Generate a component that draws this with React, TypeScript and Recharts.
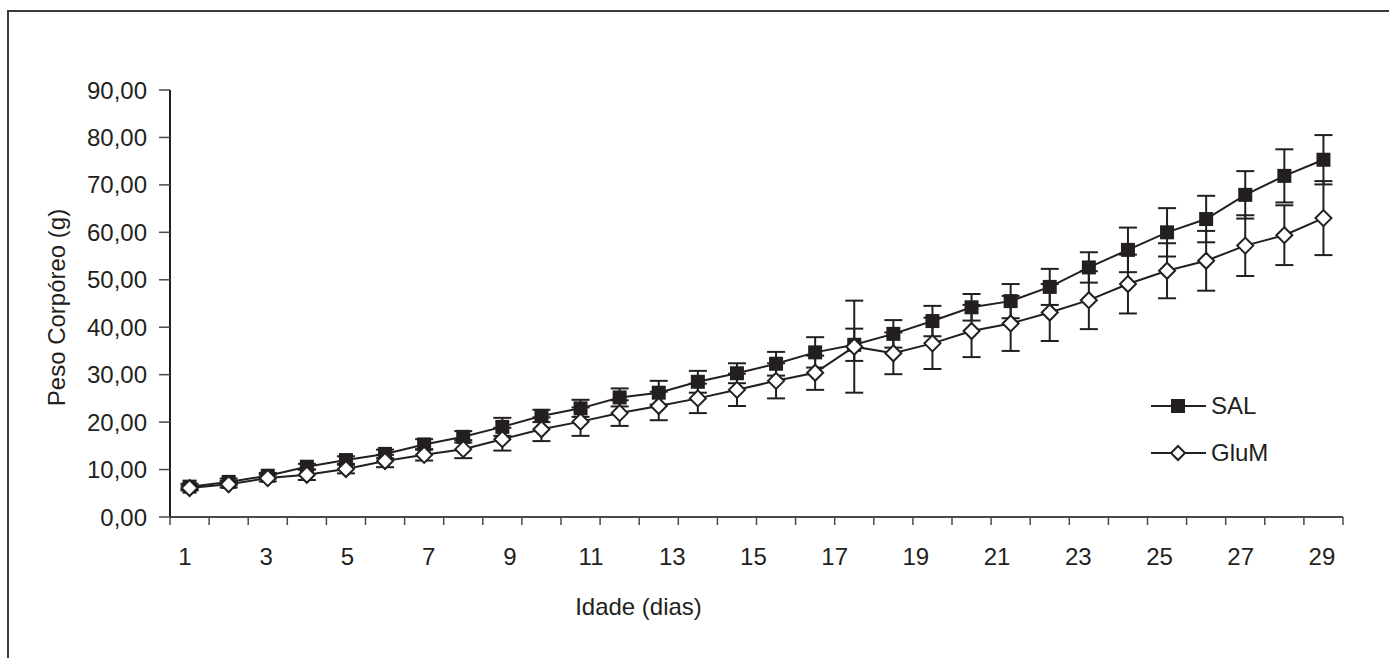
import React from 'react'
import {
  LineChart,
  Line,
  XAxis,
  YAxis,
  ErrorBar
} from 'recharts'

// Idade (dias) de cada ponto medido
const dias = [1, 2, 3, 4, 5, 6, 7, 8, 9, 10, 11, 12, 13, 14, 15, 16, 17, 18, 19, 20, 21, 22, 23, 24, 25, 26, 27, 28, 29, 30]

// Peso corpóreo médio (g) e erro (g) por grupo
const pesoSal = [6.4, 7.4, 8.7, 10.6, 12.0, 13.3, 15.3, 16.9, 19.0, 21.3, 22.9, 25.2, 26.2, 28.5, 30.3, 32.3, 34.7, 36.3, 38.6, 41.3, 44.2, 45.5, 48.5, 52.6, 56.3, 60.0, 62.8, 67.9, 71.9, 75.3]
const erroSal = [0.6, 0.7, 0.6, 0.6, 0.8, 0.9, 1.1, 1.2, 1.9, 1.3, 1.8, 1.9, 2.5, 2.3, 2.1, 2.5, 3.2, 3.4, 2.9, 3.2, 2.8, 3.6, 3.8, 3.2, 4.7, 5.1, 4.9, 5.0, 5.6, 5.2]
const pesoGlum = [6.1, 6.9, 8.2, 8.9, 10.1, 11.8, 13.1, 14.3, 16.4, 18.5, 20.1, 21.9, 23.4, 25.0, 26.8, 28.7, 30.4, 35.9, 34.5, 36.6, 39.2, 40.8, 43.1, 45.7, 49.1, 51.9, 54.0, 57.2, 59.4, 63.0]
const erroGlum = [0.5, 0.7, 0.7, 1.1, 0.9, 1.3, 1.2, 1.9, 2.4, 2.5, 3.0, 2.7, 3.0, 3.1, 3.4, 3.7, 3.6, 9.7, 4.4, 5.4, 5.5, 5.8, 6.0, 6.1, 6.2, 5.8, 6.3, 6.4, 6.3, 7.8]

// rótulos do eixo X e do eixo Y
const rotulosX = [1, 3, 5, 7, 9, 11, 13, 15, 17, 19, 21, 23, 25, 27, 29]
const ticksY = [0, 10, 20, 30, 40, 50, 60, 70, 80, 90]

const COR = '#231f20'
const FONTE = "'Liberation Sans', Arial, sans-serif"

const dados = dias.map((dia, i) => ({
  dia,
  sal: pesoSal[i],
  salErr: erroSal[i],
  glum: pesoGlum[i],
  glumErr: erroGlum[i]
}))

// marcas das divisões entre categorias (estilo Excel)
const divisoes = [...dias.map(d => d - 0.5), dias[dias.length - 1] + 0.5]

const Quadrado = (props: any) => {
  const { cx, cy } = props
  if (cx == null || cy == null) return <g />
  return <rect x={cx - 7} y={cy - 7} width={14} height={14} fill={COR} />
}

const Losango = (props: any) => {
  const { cx, cy } = props
  if (cx == null || cy == null) return <g />
  return (
    <path
      d={`M${cx},${cy - 8} L${cx + 8},${cy} L${cx},${cy + 8} L${cx - 8},${cy} Z`}
      fill="#fff"
      stroke={COR}
      strokeWidth={2}
    />
  )
}

const Legenda = () => {
  const itens = [
    { nome: 'SAL', tipo: 'q' },
    { nome: 'GluM', tipo: 'l' }
  ]
  return (
    <div style={{ position: 'absolute', left: 1150, top: 382, fontFamily: FONTE }}>
      {itens.map(item => (
        <div key={item.nome} style={{ display: 'flex', alignItems: 'center', height: 47 }}>
          <svg width={58} height={20}>
            <line x1={1} y1={10} x2={56} y2={10} stroke={COR} strokeWidth={2} />
            {item.tipo === 'q'
              ? <rect x={21} y={3} width={14} height={14} fill={COR} />
              : <path d="M28,3 L35,10 L28,17 L21,10 Z" fill="#fff" stroke={COR} strokeWidth={2} />}
          </svg>
          <span style={{ fontSize: 24, color: COR, marginLeft: 3 }}>{item.nome}</span>
        </div>
      ))}
    </div>
  )
}

export default function App() {
  const formatY = (v: number) => v.toFixed(2).replace('.', ',')

  return (
    <div style={{ position: 'relative', width: 1389, height: 658, background: '#fff', fontFamily: FONTE }}>
      <style>{'body{margin:0;overflow:hidden}'}</style>
      <div
        style={{
          position: 'absolute',
          left: 7,
          top: 10,
          width: 1500,
          height: 800,
          border: '2px solid #3c3c3c'
        }}
      />
      <div style={{ position: 'absolute', left: 0, top: 0 }}>
        <LineChart
          width={1389}
          height={658}
          data={dados}
          margin={{ top: 90, right: 46, left: 60, bottom: 81 }}
        >
          <XAxis
            dataKey="dia"
            type="number"
            domain={[0.5, 30.5]}
            ticks={divisoes}
            interval={0}
            height={10}
            tickSize={8}
            tickFormatter={() => ''}
            axisLine={{ stroke: '#4a4a4a', strokeWidth: 2 }}
            tickLine={{ stroke: '#4a4a4a', strokeWidth: 1.5 }}
          />
          <XAxis
            xAxisId="rotulos"
            dataKey="dia"
            type="number"
            domain={[0.63, 29.52]}
            allowDataOverflow
            ticks={rotulosX}
            interval={0}
            height={50}
            axisLine={false}
            tickLine={false}
            tickSize={0}
            tickMargin={21}
            tick={{ fontSize: 24, fill: COR, fontFamily: FONTE }}
            label={{
              content: (p: any) => {
                const vb = p.viewBox
                return (
                  <text
                    x={vb.x + vb.width / 2 - 118}
                    y={vb.y + 88}
                    textAnchor="middle"
                    fontSize={24}
                    fill={COR}
                    fontFamily={FONTE}
                  >
                    Idade (dias)
                  </text>
                )
              }
            }}
          />
          <XAxis
            xAxisId="topo"
            dataKey="dia"
            type="number"
            orientation="top"
            domain={[0.5, 30.5]}
            height={0}
            tick={false}
            tickLine={false}
            axisLine={{ stroke: '#a6a6a6', strokeWidth: 2 }}
          />
          <YAxis
            type="number"
            domain={[0, 90]}
            ticks={ticksY}
            interval={0}
            width={110}
            tickSize={11}
            tickMargin={12}
            tickFormatter={formatY}
            tick={{ fontSize: 24, fill: COR, fontFamily: FONTE }}
            axisLine={{ stroke: COR, strokeWidth: 2 }}
            tickLine={{ stroke: '#4a4a4a', strokeWidth: 1.5 }}
            label={{
              content: (p: any) => {
                const vb = p.viewBox
                const cx = 56
                const cy = vb.y + vb.height / 2 + 4
                return (
                  <text
                    x={cx}
                    y={cy}
                    transform={`rotate(-90, ${cx}, ${cy})`}
                    textAnchor="middle"
                    dominantBaseline="central"
                    fontSize={24}
                    fill={COR}
                    fontFamily={FONTE}
                  >
                    Peso Corpóreo (g)
                  </text>
                )
              }
            }}
          />
          <YAxis
            yAxisId="dir"
            orientation="right"
            domain={[0, 90]}
            width={0}
            tick={false}
            tickLine={false}
            axisLine={{ stroke: '#a6a6a6', strokeWidth: 2 }}
          />
          <Line
            dataKey="sal"
            name="SAL"
            stroke={COR}
            strokeWidth={2}
            dot={<Quadrado />}
            activeDot={false}
            isAnimationActive={false}
          >
            <ErrorBar dataKey="salErr" direction="y" width={9} stroke={COR} strokeWidth={2} />
          </Line>
          <Line
            dataKey="glum"
            name="GluM"
            stroke={COR}
            strokeWidth={2}
            dot={<Losango />}
            activeDot={false}
            isAnimationActive={false}
          >
            <ErrorBar dataKey="glumErr" direction="y" width={9} stroke={COR} strokeWidth={2} />
          </Line>
        </LineChart>
      </div>
      <Legenda />
    </div>
  )
}
